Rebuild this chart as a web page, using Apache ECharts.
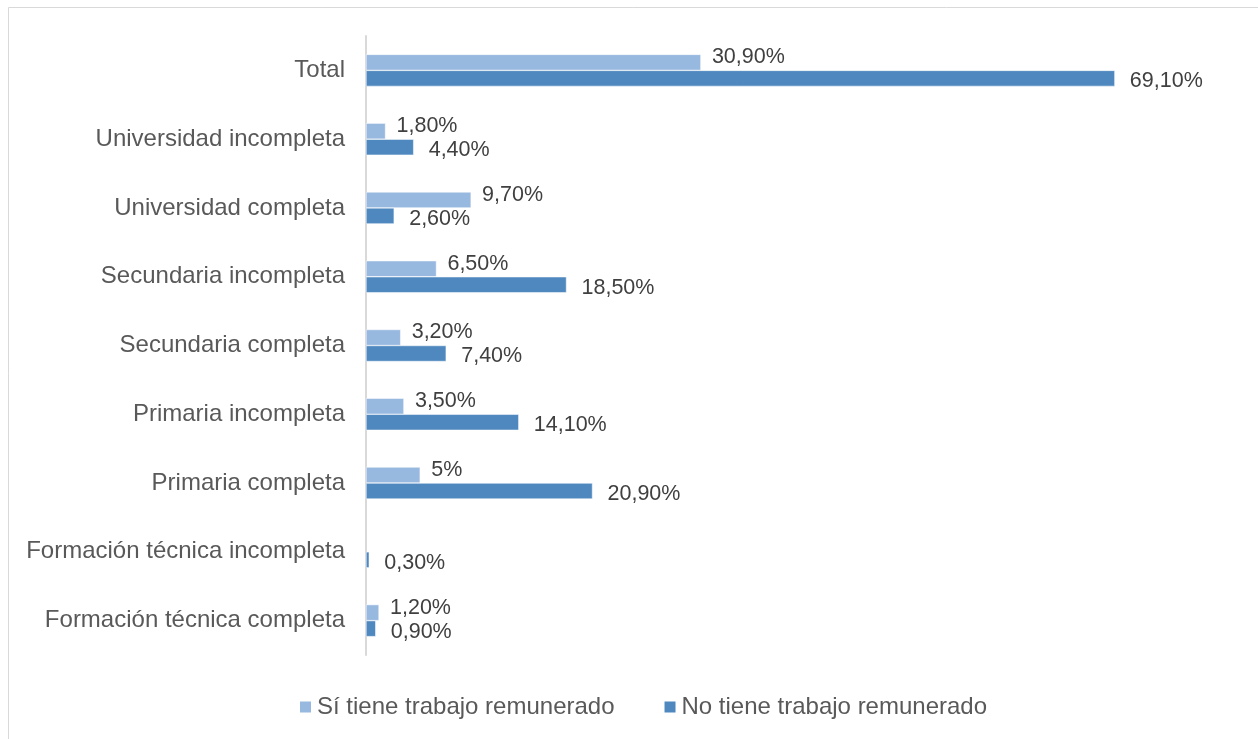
<!DOCTYPE html>
<html>
<head>
<meta charset="utf-8">
<script src="https://cdn.jsdelivr.net/npm/echarts@6/dist/echarts.min.js"></script>
<style>
html,body{margin:0;padding:0;background:#fff;}
#c{width:1258px;height:739px;}
</style>
</head>
<body>
<div id="c"></div>
<script>
// Categories from top to bottom
const categories = [
  'Total',
  'Universidad incompleta',
  'Universidad completa',
  'Secundaria incompleta',
  'Secundaria completa',
  'Primaria incompleta',
  'Primaria completa',
  'Formación técnica incompleta',
  'Formación técnica completa'
];
const seriesNames = ['Sí tiene trabajo remunerado', 'No tiene trabajo remunerado'];
const siValues = [30.9, 1.8, 9.7, 6.5, 3.2, 3.5, 5, null, 1.2];
const noValues = [69.1, 4.4, 2.6, 18.5, 7.4, 14.1, 20.9, 0.3, 0.9];

function fmt(p) {
  const v = p.value;
  if (v === null || v === undefined) return '';
  return Number.isInteger(v) ? v + '%' : v.toFixed(2).replace('.', ',') + '%';
}

const chart = echarts.init(document.getElementById('c'), null, {renderer: 'canvas'});
chart.setOption({
  animation: false,
  backgroundColor: '#fff',
  textStyle: {fontFamily: 'Liberation Sans, Arial, sans-serif'},
  graphic: [{
    type: 'rect',
    shape: {x: 8.5, y: 7.5, width: 1400, height: 900},
    style: {fill: 'none', stroke: '#d9d9d9', lineWidth: 1},
    silent: true
  }],
  grid: {left: 366, top: 36, bottom: 84, right: 25, containLabel: false},
  xAxis: {
    type: 'value', min: 0, max: 80, show: false
  },
  yAxis: {
    type: 'category',
    inverse: true,
    data: categories,
    axisLine: {show: true, lineStyle: {color: '#d9d9d9', width: 2}},
    axisTick: {show: false},
    axisLabel: {color: '#595959', fontSize: 24, margin: 21, fontFamily: 'Liberation Sans, Arial, sans-serif'}
  },
  legend: {
    data: seriesNames,
    left: 293, top: 690,
    icon: 'rect', itemWidth: 13, itemHeight: 13, itemGap: 48,
    textStyle: {color: '#595959', fontSize: 24, fontFamily: 'Liberation Sans, Arial, sans-serif'}
  },
  series: [
    {
      name: seriesNames[0], type: 'bar', data: siValues,
      barWidth: 16, barGap: '0%',
      itemStyle: {color: '#97B8DF', borderColor: '#ffffff', borderWidth: 0.5},
      label: {show: true, position: 'right', distance: 11, offset: [0, -5], formatter: fmt,
        color: '#404040', fontSize: 21.5, fontFamily: 'Liberation Sans, Arial, sans-serif'}
    },
    {
      name: seriesNames[1], type: 'bar', data: noValues,
      barWidth: 16, barGap: '0%',
      itemStyle: {color: '#4F88BF', borderColor: '#ffffff', borderWidth: 0.5},
      label: {show: true, position: 'right', distance: 15, offset: [0, 3], formatter: fmt,
        color: '#404040', fontSize: 21.5, fontFamily: 'Liberation Sans, Arial, sans-serif'}
    }
  ]
});
</script>
</body>
</html>
